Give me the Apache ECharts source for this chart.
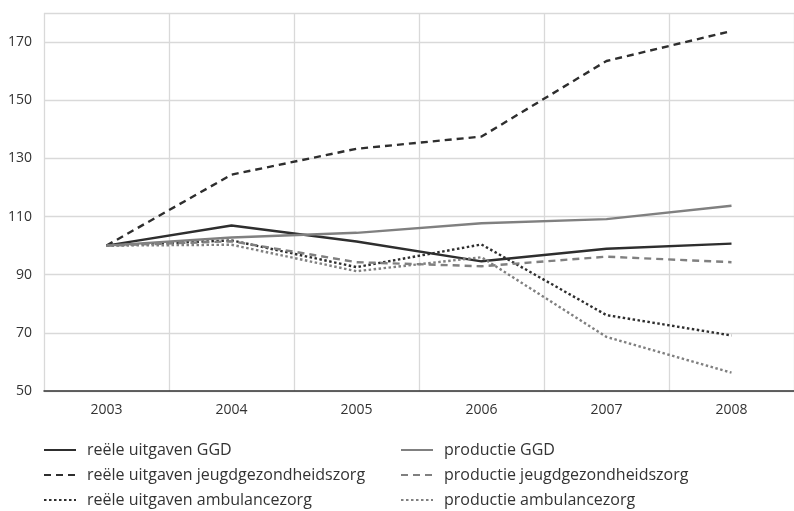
<!DOCTYPE html>
<html>
<head>
<meta charset="utf-8">
<script src="https://cdn.jsdelivr.net/npm/echarts@6/dist/echarts.min.js"></script>
<style>html,body{margin:0;padding:0;background:#fff}#c{width:794px;height:511px}</style>
</head>
<body>
<div id="c"></div>
<script>
const years = ['2003','2004','2005','2006','2007','2008'];
const uitgavenGGD = [100, 106.9, 101.4, 94.6, 98.9, 100.7];
const productieGGD = [100, 102.8, 104.4, 107.7, 109.1, 113.7];
const uitgavenJGZ = [100, 124.4, 133.3, 137.5, 163.5, 173.8];
const productieJGZ = [100, 101.5, 94.3, 92.9, 96.2, 94.3];
const uitgavenAmb = [100, 101.8, 92.6, 100.4, 76.1, 69.1];
const productieAmb = [100, 100.3, 91.2, 96.0, 68.6, 56.3];

const dark = '#2e2e2e', grey = '#808080';
const dashed = [7, 5], dotted = [2.5, 2.5];
function s(name, data, color, type) {
  return {name, type: 'line', data, symbol: 'none', showSymbol: false, smooth: false,
    lineStyle: {color, width: 2.4, type, cap: 'butt'}, itemStyle: {color}};
}
const font = '"Open Sans", Lato, sans-serif';
const legendBase = {orient: 'vertical', top: 442, height: 69, padding: 0, itemWidth: 32, itemHeight: 14, itemGap: 9,
  itemStyle: {opacity: 0},
  textStyle: {color: '#333', fontSize: 16, lineHeight: 14, fontFamily: font, padding: [0, 0, 0, 6]}};
const chart = echarts.init(document.getElementById('c'));
chart.setOption({
  animation: false,
  grid: {left: 44, top: 13, width: 756, height: 378},
  xAxis: {
    type: 'category', data: years, boundaryGap: true,
    axisLine: {lineStyle: {color: '#333', width: 1.5}},
    axisTick: {alignWithLabel: true, length: 6, lineStyle: {color: '#333', width: 1.2}},
    axisLabel: {color: '#333', fontSize: 14, fontFamily: font, margin: 12},
    splitLine: {show: true, lineStyle: {color: '#d9d9d9', width: 1.3}}
  },
  yAxis: {
    type: 'value', min: 50, max: 180, interval: 20,
    axisLine: {show: false}, axisTick: {show: false},
    axisLabel: {color: '#333', fontSize: 14, fontFamily: font, margin: 12,
      formatter: v => v === 180 ? '' : String(v)},
    splitLine: {lineStyle: {color: '#d9d9d9', width: 1.3}}
  },
  legend: [
    Object.assign({}, legendBase, {left: 43,
     data: ['reële uitgaven GGD', 'reële uitgaven jeugdgezondheidszorg', 'reële uitgaven ambulancezorg']}),
    Object.assign({}, legendBase, {left: 400,
     data: ['productie GGD', 'productie jeugdgezondheidszorg', 'productie ambulancezorg']})
  ],
  series: [
    s('reële uitgaven GGD', uitgavenGGD, dark, 'solid'),
    s('reële uitgaven jeugdgezondheidszorg', uitgavenJGZ, dark, dashed),
    s('reële uitgaven ambulancezorg', uitgavenAmb, dark, dotted),
    s('productie GGD', productieGGD, grey, 'solid'),
    s('productie jeugdgezondheidszorg', productieJGZ, grey, dashed),
    s('productie ambulancezorg', productieAmb, grey, dotted)
  ]
});
</script>
</body>
</html>
